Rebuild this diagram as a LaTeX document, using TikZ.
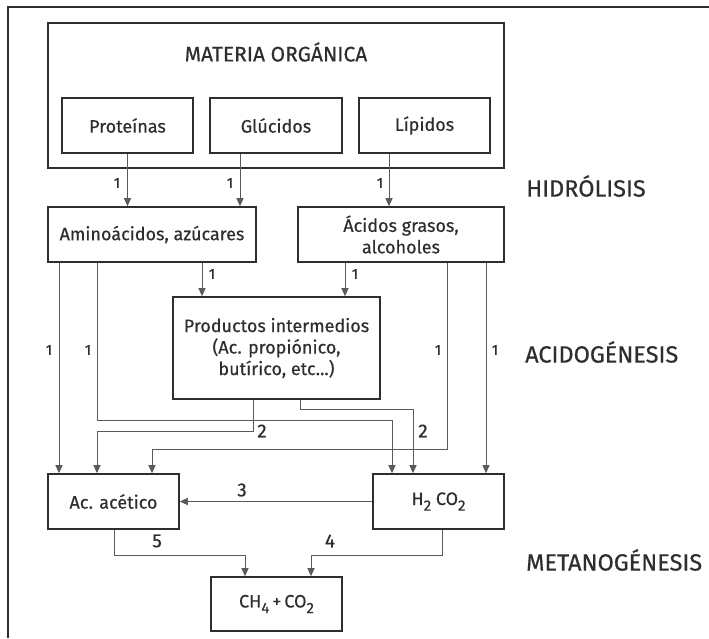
\documentclass[tikz,border=0pt]{standalone}
\usepackage{fontspec}
\setmainfont{Fira Sans}[FakeBold=0.5]
\usetikzlibrary{arrows.meta}
\definecolor{ink}{HTML}{2E2E2E}
\definecolor{wire}{HTML}{5A5A5A}
\newcommand\lowidx[1]{\raisebox{-0.6ex}{\fontsize{15}{15}\selectfont #1}}
\begin{document}
\begin{tikzpicture}[x=1pt,y=-1pt,
  every node/.style={text=ink},
  box/.style={draw=ink, line width=1.6pt, rectangle, inner sep=0pt, align=center,
    font=\fontsize{18}{21.5}\selectfont},
  wire/.style={draw=wire, line width=1pt},
  arr/.style={wire, -{Triangle[length=8pt,width=7pt]}},
  num/.style={font=\fontsize{14.5}{14.5}\selectfont, inner sep=0pt},
  bignum/.style={font=\fontsize{19}{19}\selectfont, inner sep=0pt},
  stage/.style={font=\fontsize{23.5}{25}\selectfont, anchor=west, inner sep=0pt}]
\useasboundingbox (0,0) rectangle (709,638);
% outer frame (cut at right and bottom)
\draw[ink, line width=1.2pt] (709,7) -- (8,7) -- (8,638);

% boxes
\node[box, minimum width=456pt, minimum height=145pt] (mo) at (276,95.5) {};
\node[inner sep=0pt, font=\fontsize{21}{23}\selectfont] (motit) at (276,52) {MATERIA ORGÁNICA};
\node[box, minimum width=131pt, minimum height=55pt] (prot) at (127.5,125.5) {Proteínas};
\node[box, minimum width=132pt, minimum height=55pt] (glu) at (276,125.5) {Glúcidos};
\node[box, minimum width=131pt, minimum height=55pt] (lip) at (424.5,125.5) {Lípidos};
\node[box, minimum width=208pt, minimum height=55pt] (amino) at (152,234.5) {Aminoácidos, azúcares};
\node[box, minimum width=206pt, minimum height=55pt] (acid) at (401,234.5) {Ácidos grasos,\\alcoholes};
\node[box, minimum width=207pt, minimum height=102pt] (prod) at (276.5,348) {Productos intermedios\\(Ac. propiónico,\\butírico, etc...)};
\node[box, minimum width=131pt, minimum height=55pt] (acet) at (113.5,501.5) {Ac. acético};
\node[box, minimum width=131pt, minimum height=55pt] (h2) at (438.5,501.5) {H\lowidx{2} CO\lowidx{2}};
\node[box, minimum width=131pt, minimum height=54pt] (ch4) at (276.5,604) {CH\lowidx{4}\,+\,CO\lowidx{2}};

% stage labels
\node[stage] (hid) at (526,186) {HIDRÓLISIS};
\node[stage] (aci) at (525,352) {ACIDOGÉNESIS};
\node[stage] (met) at (526,560) {METANOGÉNESIS};

% hydrolysis arrows
\draw[arr] (prot.south) -- (prot.south |- amino.north);
\draw[arr] (240,0 |- glu.south) -- (240,0 |- amino.north);
\draw[arr] (389,0 |- lip.south) -- (389,0 |- acid.north);
\node[num] (n1a) at (117,183) {1};
\node[num] (n1b) at (230,183) {1};
\node[num] (n1c) at (380,183) {1};

% acidogenesis
\draw[arr] (202,0 |- amino.south) -- (202,0 |- prod.north);
\draw[arr] (345,0 |- acid.south) -- (345,0 |- prod.north);
\node[num] (n1d) at (212,274) {1};
\node[num] (n1e) at (355,274) {1};

\draw[arr] (59,0 |- amino.south) -- (59,0 |- acet.north);
\draw[arr] (97,0 |- amino.south) -- (97,420) -- (392,420) -- (392,0 |- h2.north);
\draw[arr] (253,0 |- prod.south) -- (253,431) -- (97,431) -- (97,0 |- acet.north);
\draw[arr] (300,0 |- prod.south) -- (300,409) -- (413,409) -- (413,0 |- h2.north);
\draw[arr] (447,0 |- acid.south) -- (447,449) -- (152,449) -- (152,0 |- acet.north);
\draw[arr] (486,0 |- acid.south) -- (486,0 |- h2.north);
\node[num] (n1f) at (49,350) {1};
\node[num] (n1g) at (88,350) {1};
\node[num] (n1h) at (438,350) {1};
\node[num] (n1i) at (495,350) {1};
\node[bignum] (n2a) at (262,431) {2};
\node[bignum] (n2b) at (423,431) {2};

% methanogenesis
\draw[arr] (h2.west) -- (acet.east);
\node[bignum] (n3) at (242,490) {3};
\draw[arr] (114,0 |- acet.south) -- (114,555) -- (245,555) -- (245,0 |- ch4.north);
\draw[arr] (442,0 |- h2.south) -- (442,555) -- (311,555) -- (311,0 |- ch4.north);
\node[bignum] (n5) at (157,541) {5};
\node[bignum] (n4) at (330,541) {4};
\end{tikzpicture}
\end{document}
